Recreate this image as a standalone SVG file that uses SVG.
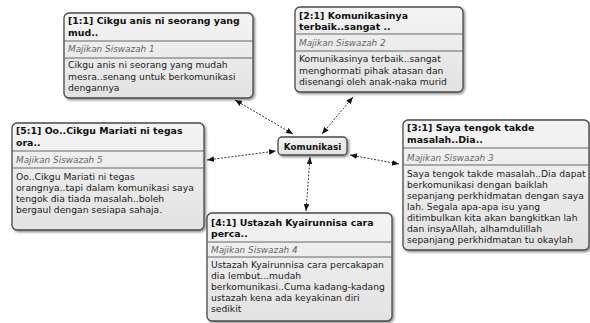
<svg xmlns="http://www.w3.org/2000/svg" width="590" height="323" viewBox="0 0 590 323">
<defs>
<linearGradient id="g" x1="0" y1="0" x2="0" y2="1">
<stop offset="0" stop-color="#f4f4f4"/>
<stop offset="1" stop-color="#e2e2e2"/>
</linearGradient>
<filter id="sh" x="-10%" y="-10%" width="120%" height="130%">
<feDropShadow dx="1.5" dy="1.5" stdDeviation="1" flood-color="#000" flood-opacity="0.45"/>
</filter>
<marker id="ar" viewBox="0 0 10 10" refX="10" refY="5" markerWidth="7" markerHeight="7" markerUnits="userSpaceOnUse" orient="auto-start-reverse">
<path d="M0,1 L10,5 L0,9 z" fill="#111"/>
</marker>
</defs>
<style>
.box{fill:url(#g);stroke:#4a4a4a;stroke-width:1.3;filter:url(#sh)}
.sep{stroke:#666;stroke-width:1}
.t{font-family:"DejaVu Sans",Verdana,sans-serif;font-size:9.4px;font-weight:bold;fill:#111}
.s{font-family:"DejaVu Sans",Verdana,sans-serif;font-size:8.9px;font-style:italic;fill:#666}
.b{font-family:"DejaVu Sans",Verdana,sans-serif;font-size:9.2px;fill:#222}
.k{font-family:"DejaVu Sans",Verdana,sans-serif;font-size:8.8px;font-weight:bold;fill:#111}
.c{stroke:#222;stroke-width:0.9;stroke-dasharray:2,1.5;fill:none;marker-start:url(#ar);marker-end:url(#ar)}
</style>
<g id="connectors">
<line class="c" x1="235" y1="100" x2="293" y2="134"/>
<line class="c" x1="353" y1="97" x2="322" y2="134"/>
<line class="c" x1="207" y1="160" x2="276" y2="151"/>
<line class="c" x1="350" y1="155" x2="399" y2="164"/>
<line class="c" x1="310" y1="157" x2="306" y2="211"/>
</g>
<g id="n1" transform="translate(64,13)">
<rect class="box" width="189" height="85" rx="5"/>
<text class="t" x="4" y="11">[1:1] Cikgu anis ni seorang yang</text>
<text class="t" x="4" y="23">mud..</text>
<line class="sep" x1="0" y1="28" x2="189" y2="28"/>
<text class="s" x="4" y="39">Majikan Siswazah 1</text>
<line class="sep" x1="0" y1="45" x2="189" y2="45"/>
<text class="b" x="4" y="55">Cikgu anis ni seorang yang mudah</text>
<text class="b" x="4" y="66.5">mesra..senang untuk berkomunikasi</text>
<text class="b" x="4" y="78">dengannya</text>
</g>
<g id="n2" transform="translate(295,7)">
<rect class="box" width="168" height="85" rx="5"/>
<text class="t" x="4" y="12">[2:1] Komunikasinya</text>
<text class="t" x="4" y="23">terbaik..sangat ..</text>
<line class="sep" x1="0" y1="27" x2="168" y2="27"/>
<text class="s" x="4" y="39">Majikan Siswazah 2</text>
<line class="sep" x1="0" y1="44" x2="168" y2="44"/>
<text class="b" x="4" y="55">Komunikasinya terbaik..sangat</text>
<text class="b" x="4" y="66.5">menghormati pihak atasan dan</text>
<text class="b" x="4" y="78">disenangi oleh anak-naka murid</text>
</g>
<g id="n5" transform="translate(12,123)">
<rect class="box" width="192" height="107" rx="5"/>
<text class="t" x="4" y="11">[5:1] Oo..Cikgu Mariati ni tegas</text>
<text class="t" x="4" y="23">ora..</text>
<line class="sep" x1="0" y1="28" x2="192" y2="28"/>
<text class="s" x="4" y="40">Majikan Siswazah 5</text>
<line class="sep" x1="0" y1="45" x2="192" y2="45"/>
<text class="b" x="4" y="57">Oo..Cikgu Mariati ni tegas</text>
<text class="b" x="4" y="68">orangnya..tapi dalam komunikasi saya</text>
<text class="b" x="4" y="79">tengok dia tiada masalah..boleh</text>
<text class="b" x="4" y="90">bergaul dengan sesiapa sahaja.</text>
</g>
<g id="n3" transform="translate(403,120)">
<rect class="box" width="186" height="130" rx="5"/>
<text class="t" x="4" y="11">[3:1] Saya tengok takde</text>
<text class="t" x="4" y="23">masalah..Dia..</text>
<line class="sep" x1="0" y1="28" x2="186" y2="28"/>
<text class="s" x="4" y="41">Majikan Siswazah 3</text>
<line class="sep" x1="0" y1="45" x2="186" y2="45"/>
<text class="b" x="4" y="57">Saya tengok takde masalah..Dia dapat</text>
<text class="b" x="4" y="68">berkomunikasi dengan baiklah</text>
<text class="b" x="4" y="79">sepanjang perkhidmatan dengan saya</text>
<text class="b" x="4" y="90">lah. Segala apa-apa isu yang</text>
<text class="b" x="4" y="101">ditimbulkan kita akan bangkitkan lah</text>
<text class="b" x="4" y="112">dan insyaAllah, alhamdulillah</text>
<text class="b" x="4" y="123">sepanjang perkhidmatan tu okaylah</text>
</g>
<g id="n4" transform="translate(207,213)">
<rect class="box" width="185" height="108" rx="5"/>
<text class="t" x="4" y="13">[4:1] Ustazah Kyairunnisa cara</text>
<text class="t" x="4" y="24">perca..</text>
<line class="sep" x1="0" y1="29" x2="185" y2="29"/>
<text class="s" x="4" y="40">Majikan Siswazah 4</text>
<line class="sep" x1="0" y1="44" x2="185" y2="44"/>
<text class="b" x="4" y="55">Ustazah Kyairunnisa  cara percakapan</text>
<text class="b" x="4" y="66">dia lembut...mudah</text>
<text class="b" x="4" y="77">berkomunikasi..Cuma kadang-kadang</text>
<text class="b" x="4" y="88">ustazah kena ada keyakinan diri</text>
<text class="b" x="4" y="99">sedikit</text>
</g>
<g id="center" transform="translate(278,137)">
<rect class="box" width="69" height="18" rx="4"/>
<text class="k" x="34.5" y="12.5" text-anchor="middle">Komunikasi</text>
</g>
</svg>
